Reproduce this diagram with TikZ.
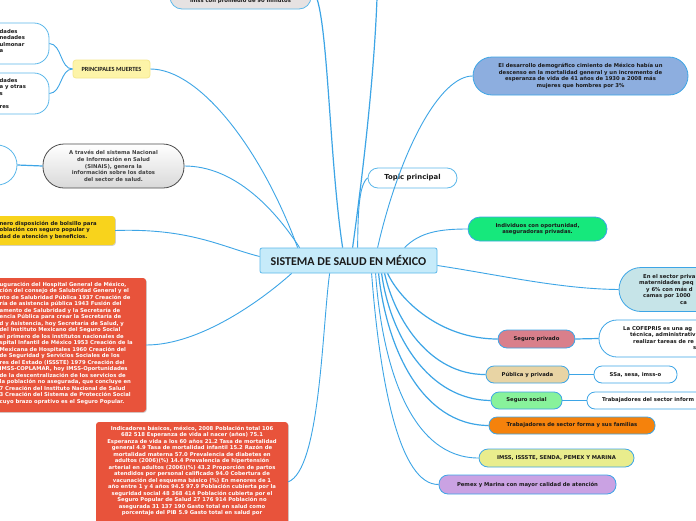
\documentclass[tikz,border=0pt]{standalone}
\usepackage{fontspec}
\setmainfont{DejaVu Sans}
\newfontfamily\carl{Carlito}
\usetikzlibrary{calc,shadows}
\definecolor{wire}{HTML}{3DA5E6}
\definecolor{ink}{HTML}{1A1A1A}
\definecolor{cfill}{HTML}{C6EBFA}
\definecolor{cline}{HTML}{5CB8EA}
\definecolor{grayfill}{HTML}{E6E2E2}
\definecolor{pmfill}{HTML}{FDF4A8}
\definecolor{pmline}{HTML}{F5E88E}
\definecolor{yfill}{HTML}{F8D31C}
\definecolor{redfill}{HTML}{E8533B}
\definecolor{desfill}{HTML}{8DAEDF}
\definecolor{indfill}{HTML}{16E87C}
\definecolor{sectfill}{HTML}{C6E4E8}
\definecolor{spfill}{HTML}{D97F8B}
\definecolor{pubfill}{HTML}{E8D4A4}
\definecolor{ssfill}{HTML}{88F29B}
\definecolor{trabfill}{HTML}{F5820C}
\definecolor{imssfill}{HTML}{E9ED8D}
\definecolor{pemfill}{HTML}{CAA2E3}
\begin{document}
\begin{tikzpicture}[x=1pt,y=-1pt,
  mm/.style={draw=cline, line width=0.8pt, inner sep=0pt, align=center,
    font=\bfseries\fontsize{5.3}{6.6}\selectfont, text=ink},
  sq/.style={inner sep=0pt, rounded corners=3pt, drop shadow={shadow xshift=0.8pt, shadow yshift=-0.8pt, opacity=0.35}},
  frag/.style={inner sep=0pt, align=left, font=\bfseries\fontsize{5.3}{6.5}\selectfont, text=ink},
  link/.style={draw=wire, line width=1.2pt},
  thinlink/.style={draw=wire, line width=0.9pt}]
\useasboundingbox (0,0) rectangle (696,520);
\clip (0,0) rectangle (696,520);
\fill[white] (0,0) rectangle (696,520);

% ---------- nodes ----------
\node[mm, fill=cfill, rounded corners=2pt, minimum width=177pt, minimum height=25pt,
  font=\carl\bfseries\fontsize{12}{14}\selectfont] (c) at (348.5,260.5) {SISTEMA DE SALUD EN MÉXICO};

\node[mm, fill=grayfill, rounded corners=12pt, minimum width=141pt, minimum height=38pt] (top) at (240.5,-10) {};
\node[frag, align=center] (toptxt) at (240.5,1.5) {imss con promedio de 90 minutos};

\node[mm, draw=pmline, fill=pmfill, rounded corners=3pt, minimum width=77pt, minimum height=18pt,
  font=\carl\bfseries\fontsize{6.3}{7}\selectfont] (pm) at (111.5,69) {PRINCIPALES MUERTES};
\node[mm, fill=white, rounded corners=15pt, minimum width=108pt, minimum height=41pt] (pm1) at (-5,43.5) {};
\node[mm, fill=white, rounded corners=15pt, minimum width=108pt, minimum height=41pt] (pm2) at (-5,93.5) {};
\node[frag, anchor=north west] (pm1txt) at (-0.5,29) {dades\\nedades\\ulmonar\\a};
\node[frag, anchor=north west] (pm2txt) at (-0.5,78) {dades\\a y otras\\s\\\mbox{}\\res};

\node[mm, fill=white, circle, minimum size=40pt] (circ) at (-3,165) {};
\node[mm, draw=black!70, top color=white, bottom color=black!15, rounded corners=21pt,
  minimum width=141pt, minimum height=44pt, text=black!75] (sinais) at (113.5,166)
  {A través del sistema Nacional\\de Información en Salud\\(SINAIS), genera la\\información sobre los datos\\del sector de salud.};

\node[sq, fill=yfill, minimum width=125pt, minimum height=29pt] (ybox) at (52.5,230.5) {};
\node[frag, anchor=north west] (ytxt) at (-0.5,221) {nero disposición de bolsillo para\\oblación con seguro popular y\\dad de atención y beneficios.};

\node[sq, fill=redfill, minimum width=156pt, minimum height=134pt] (red1) at (68,345) {};
\node[frag, anchor=north west, text=white] (red1txt) at (-0.5,282) {uguración del Hospital General de México,\\ción del consejo de Salubridad General y el\\nto de Salubridad Pública 1937 Creación de\\ría de asistencia pública 1943 Fusión del\\amento de Salubridad y la Secretaría de\\encia Pública para crear la Secretaría de\\d y Asistencia, hoy Secretaría de Salud, y\\del Instituto Mexicano del Seguro Social\\el primero de los institutos nacionales de\\spital Infantil de México 1953 Creación de la\\Mexicana de Hospitales 1960 Creación del\\de Seguridad y Servicios Sociales de los\\res del Estado (ISSSTE) 1979 Creación del\\IMSS-COPLAMAR, hoy IMSS-Oportunidades\\de la descentralización de los servicios de\\la población no asegurada, que concluye en\\7 Creación del Instituto Nacional de Salud\\3 Creación del Sistema de Protección Social\\cuyo brazo oprativo es el Seguro Popular.};

\node[sq, fill=redfill, minimum width=192pt, minimum height=140pt] (red2) at (192,492) {};
\node[frag, align=center, anchor=north, text=white] (red2txt) at (192,426) {Indicadores básicos, méxico, 2008 Población total 106\\682 518 Esperanza de vida al nacer (años) 75.1\\Esperanza de vida a los 60 años 21.2 Tasa de mortalidad\\general 4.9 Tasa de mortalidad infantil 15.2 Razón de\\mortalidad materna 57.0 Prevalencia de diabetes en\\adultos (2006)(\%) 14.4 Prevalencia de hipertensión\\arterial en adultos (2006)(\%) 43.2 Proporción de partos\\atendidos por personal calificado 94.0 Cobertura de\\vacunación del esquema básico (\%) En menores de 1\\año entre 1 y 4 años 94.5 97.9 Población cubierta por la\\seguridad social 48 368 414 Población cubierta por el\\Seguro Popular de Salud 27 176 914 Población no\\asegurada 31 137 190 Gasto total en salud como\\porcentaje del PIB 5.9 Gasto total en salud por};

\node[mm, fill=desfill, draw=wire, rounded corners=19pt, minimum width=215pt, minimum height=38pt] (des) at (580.5,76)
  {El desarrollo demográfico cimiento de México había un\\descenso en la mortalidad general y un incremento de\\esperanza de vida de 41 años de 1930 a 2008 más\\mujeres que hombres por 3\%};

\node[mm, fill=white, rounded corners=10pt, minimum width=89pt, minimum height=20pt,
  font=\bfseries\fontsize{6.9}{8}\selectfont] (topic) at (412.5,178) {Topic principal};

\node[mm, fill=indfill, draw=wire, rounded corners=12pt, minimum width=139pt, minimum height=24pt] (ind) at (537.5,229)
  {Individuos con oportunidad,\\aseguradoras privadas.};

\node[mm, fill=sectfill, draw=wire, rounded corners=22pt, minimum width=104pt, minimum height=44pt] (sect) at (671,289.5) {};
\node[frag, anchor=north west] (secttxt) at (639,274) {\hspace*{4pt}En el sector priva\\maternidades peq\\\hspace*{7pt}y 6\% con más d\\\hspace*{4pt}camas por 1000\\\hspace*{41pt}ca};

\node[mm, fill=spfill, draw=wire, rounded corners=9pt, minimum width=77pt, minimum height=18pt] (sp) at (536.5,339) {Seguro privado};
\node[mm, fill=white, draw=wire, rounded corners=18pt, minimum width=124pt, minimum height=37pt] (cof) at (661,338.5) {};
\node[frag, anchor=north west] (coftxt) at (623,326) {La COFEPRIS es una ag\\\hspace*{7pt}técnica, administrativ\\\hspace*{10pt}realizar tareas de re\\\hspace*{70pt}s};

\node[mm, fill=pubfill, draw=wire, rounded corners=8pt, minimum width=83pt, minimum height=17pt] (pub) at (527.5,374.5) {Pública y privada};
\node[mm, fill=white, draw=wire, rounded corners=8pt, minimum width=83pt, minimum height=17pt] (ssa) at (635.5,374.5) {SSa, sesa, imss-o};

\node[mm, fill=ssfill, draw=wire, rounded corners=8pt, minimum width=71pt, minimum height=17pt] (ss) at (526.5,400.5) {Seguro social};
\node[mm, fill=white, draw=wire, rounded corners=8pt, minimum width=130pt, minimum height=17pt] (tsi) at (652,400.5) {};
\node[frag, anchor=west] (tsitxt) at (602,400.5) {Trabajadores del sector inform};

\node[mm, fill=trabfill, draw=wire, rounded corners=8pt, minimum width=166pt, minimum height=17pt] (trab) at (572,425.5) {Trabajadores de sector forma y sus familias};
\node[mm, fill=imssfill, draw=wire, rounded corners=9pt, minimum width=155pt, minimum height=18pt] (imss) at (556.5,458) {IMSS, ISSSTE, SENDA, PEMEX Y MARINA};
\node[mm, fill=pemfill, draw=wire, rounded corners=9pt, minimum width=177pt, minimum height=19pt] (pemex) at (527.5,484.5) {Pemex y Marina con mayor calidad de atención};

\coordinate (offtop) at (377,-2);

% ---------- connectors ----------
\draw[link] (top.east) .. controls (328,-5) and (328,150) .. ($(c.north west)+(83,0)$);
\draw[link] (offtop) .. controls (374,80) and (362,180) .. ($(c.north west)+(93,0)$);
\draw[thinlink] (des.west) .. controls (440,76) and (400,150) .. ($(c.north west)+(118,0)$);
\draw[thinlink] (topic.west) .. controls (358,185) and (358,220) .. ($(c.north west)+(98,0)$);
\draw[thinlink] (ind.west) .. controls (440,229) and (420,232) .. ($(c.north west)+(145,0)$);
\draw[thinlink] (pm.east) .. controls (200,69) and (262,150) .. ($(c.north west)+(38,0)$);
\draw[thinlink] (sinais.east) .. controls (232,166) and (272,205) .. ($(c.north west)+(40,0)$);
\draw[thinlink] (ybox.east) .. controls (190,228) and (222,247) .. ($(c.west)+(0,-4)$);
\draw[thinlink] (red1.east) .. controls (200,345) and (262,300) .. ($(c.south west)+(32,0)$);
\draw[thinlink] ($(red2.north east)+(0,60)$) .. controls (320,470) and (322,330) .. ($(c.south west)+(70,0)$);
\draw[thinlink] ($(c.east)+(0,5)$) .. controls (500,275) and (560,289) .. (sect.west);
\draw[link] ($(c.south west)+(128,0)$) .. controls (400,300) and (440,339) .. (sp.west);
\draw[link] ($(c.south west)+(125,0)$) .. controls (395,320) and (430,375) .. (pub.west);
\draw[link] ($(c.south west)+(122,0)$) .. controls (390,335) and (428,400) .. (ss.west);
\draw[link] ($(c.south west)+(119,0)$) .. controls (386,345) and (420,425) .. (trab.west);
\draw[thinlink] ($(c.south west)+(116,0)$) .. controls (382,365) and (410,458) .. (imss.west);
\draw[thinlink] ($(c.south west)+(112,0)$) .. controls (380,385) and (400,485) .. (pemex.west);
\draw[link] (sp.east) -- (cof.west);
\draw[link] (pub.east) -- (ssa.west);
\draw[link] (ss.east) -- (tsi.west);
\draw[thinlink] (pm.west) .. controls (60,69) and (62,44) .. (pm1.east);
\draw[thinlink] (pm.west) .. controls (60,69) and (62,93) .. (pm2.east);
\draw[link] (circ.east) -- (sinais.west);
\end{tikzpicture}
\end{document}
